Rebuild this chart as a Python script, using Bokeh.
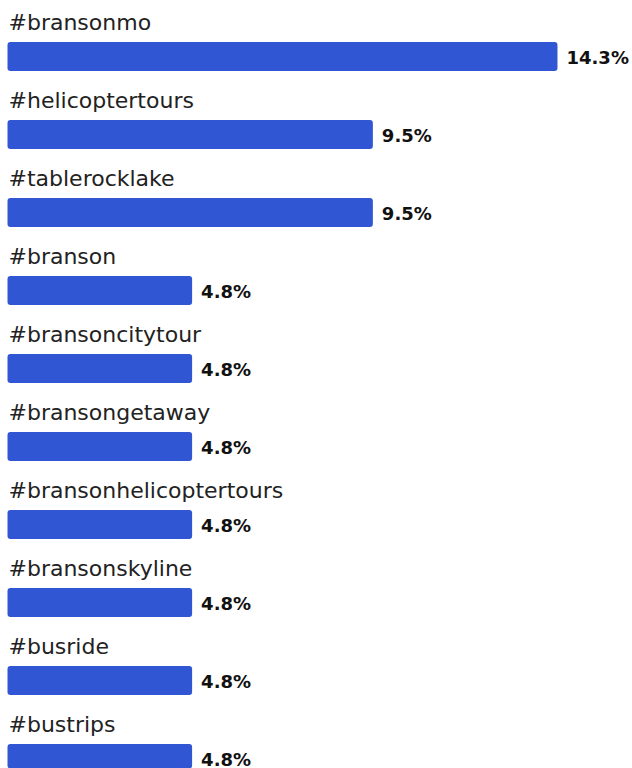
from bokeh.plotting import figure
from bokeh.models import ColumnDataSource, Range1d
from bokeh.core.properties import value
from bokeh.embed import file_html
from bokeh.resources import INLINE

tags = ["#bransonmo", "#helicoptertours", "#tablerocklake", "#branson", "#bransoncitytour",
        "#bransongetaway", "#bransonhelicoptertours", "#bransonskyline", "#busride", "#bustrips"]
values = [14.3, 9.5, 9.5, 4.8, 4.8, 4.8, 4.8, 4.8, 4.8, 4.8]
value_labels = ["14.3%", "9.5%", "9.5%", "4.8%", "4.8%", "4.8%", "4.8%", "4.8%", "4.8%", "4.8%"]

rows = list(range(len(tags)))
src = ColumnDataSource(dict(y=rows, v=values, tag=tags, lab=value_labels, zero=[0] * len(rows)))

W, H = 632, 768
px_per_unit = 38.46
x_start = -7 / px_per_unit
x_end = x_start + W / px_per_unit
row_px = 78
y_top = -56 / row_px
y_bot = y_top + H / row_px

p = figure(width=W, height=H, output_backend="svg", toolbar_location=None,
           x_range=Range1d(x_start, x_end), y_range=Range1d(y_bot, y_top),
           min_border=0, outline_line_color=None)
p.axis.visible = False
p.grid.visible = False
p.background_fill_color = "white"
p.border_fill_color = "white"

p.hbar(y="y", left="zero", right="v", height=29 / row_px, source=src,
       fill_color="#3056D3", line_color=None, border_radius=3)

p.text(x="zero", y="y", text="tag", source=src, y_offset=-34, x_offset=1,
       text_font=value("DejaVu Sans"), text_font_size="22px", text_color="#222222",
       text_baseline="middle", text_align="left")

p.text(x="v", y="y", text="lab", source=src, x_offset=9, y_offset=1,
       text_font=value("DejaVu Sans"), text_font_size="18px", text_font_style="bold",
       text_color="#111111", text_baseline="middle", text_align="left")

open("out.html", "w").write(file_html(p, INLINE))
